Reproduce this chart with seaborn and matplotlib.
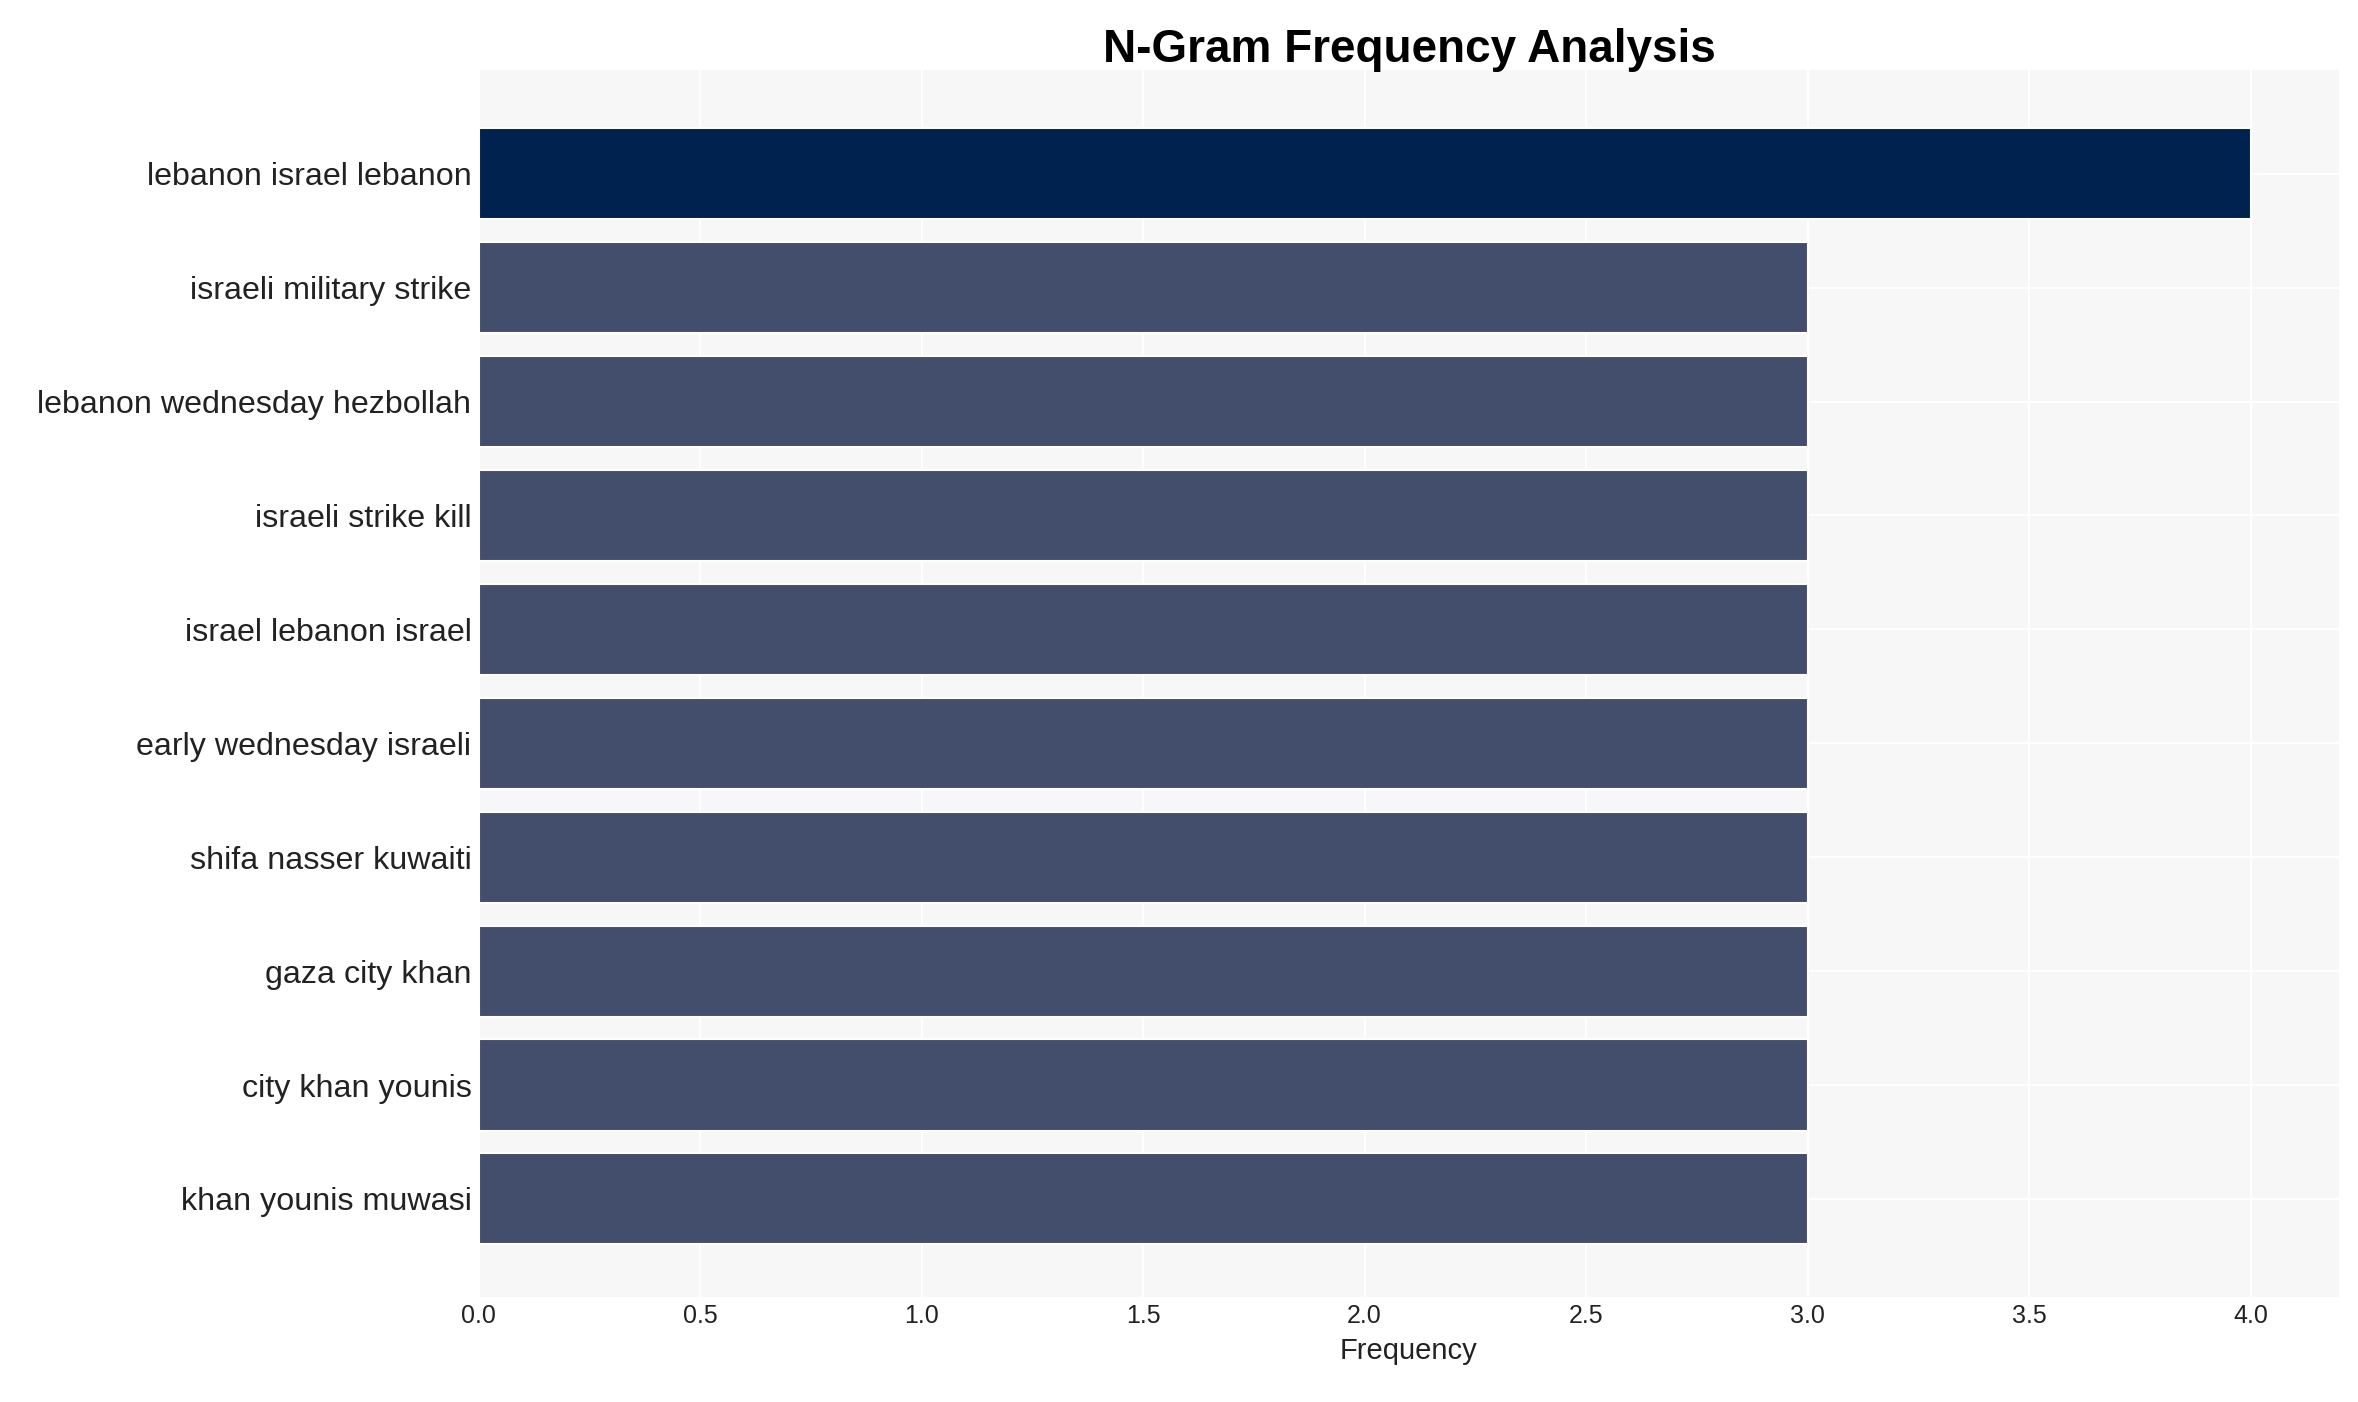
import pandas as pd
import seaborn as sns
import matplotlib
matplotlib.use('Agg')
import matplotlib.pyplot as plt

ngrams = ["lebanon israel lebanon", "israeli military strike", "lebanon wednesday hezbollah",
          "israeli strike kill", "israel lebanon israel", "early wednesday israeli",
          "shifa nasser kuwaiti", "gaza city khan", "city khan younis", "khan younis muwasi"]
counts = [4, 3, 3, 3, 3, 3, 3, 3, 3, 3]

df = pd.DataFrame({"ngram": ngrams, "Frequency": counts})
colors = ["#00224e" if c == max(counts) else "#434e6c" for c in counts]

sns.set_theme(style="whitegrid", rc={
    "axes.facecolor": "#f7f7f7",
    "grid.color": "white",
    "axes.edgecolor": "#f7f7f7",
})
plt.rcParams['font.family'] = ['Liberation Sans', 'DejaVu Sans']

fig, ax = plt.subplots(figsize=(15.72, 9.347), dpi=150)
sns.barplot(data=df, x="Frequency", y="ngram", hue="ngram", palette=colors,
            legend=False, ax=ax, width=0.8, saturation=1)

ax.set_title("N-Gram Frequency Analysis", fontsize=22, weight='bold', pad=4, color='black')
ax.set_ylabel("")
ax.set_xlabel("Frequency", fontsize=14, color='#222222')
ax.tick_params(axis='y', labelsize=15.5, length=0, labelcolor='#222222')
ax.tick_params(axis='x', labelsize=12, length=0, labelcolor='#222222')
ax.set_xticks([0, 0.5, 1, 1.5, 2, 2.5, 3, 3.5, 4])
ax.set_xlim(0, 4.2)
ax.set_ylim(9.86, -0.91)
ax.grid(True, axis='both', color='white', linewidth=1)
ax.set_axisbelow(True)
for s in ax.spines.values():
    s.set_visible(False)

plt.subplots_adjust(left=0.203, right=0.992, top=0.95, bottom=0.075)
plt.savefig("out.png", dpi=150)
plt.close()
